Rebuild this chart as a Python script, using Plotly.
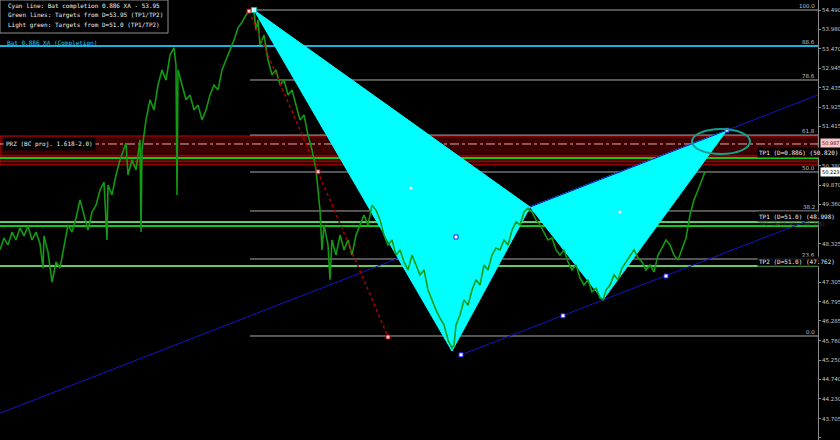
import plotly.graph_objects as go

# ---------------- data ----------------
bar_x = [0,4,8,12,16,20,24,28,32,36,40,43,44,48,52,56,60,64,68,72,76,80,84,88,92,96,100,104,107,108,112,116,120,124,126,128,132,136,140,141,142,146,150,154,158,162,166,170,174,176,177,178,182,186,190,194,198,202,206,210,214,218,222,226,230,234,238,242,246,250,254,256,258,260,264,268,272,276,280,284,288,292,296,300,304,308,312,316,320,322,324,328,330,332,336,340,344,348,352,356,360,364,368,372,376,380,384,388,392,396,400,404,408,412,416,420,424,428,432,436,440,444,448,452,454,456,460,464,468,472,476,480,484,488,492,496,500,504,508,512,516,520,524,528,532,536,540,544,548,552,556,560,564,568,572,576,580,584,588,592,596,600,603,606,610,614,618,622,626,630,634,638,642,646,650,654,658,662,666,670,674,678,682,686,690,694,698,702,705]
price = [48.16,48.47,48.29,48.63,48.42,48.74,48.53,48.79,48.42,48.63,48.32,47.68,48.53,48.10,47.31,47.84,47.68,48.29,48.82,48.63,49.00,49.48,49.08,48.68,49.16,49.34,49.74,49.95,48.42,49.87,49.61,50.14,50.53,50.80,50.98,50.14,50.53,50.27,51.06,48.63,50.80,51.59,52.12,51.85,52.51,52.91,52.64,53.30,53.49,53.04,49.61,52.91,52.51,52.12,52.25,51.85,51.98,51.59,51.85,52.25,52.51,52.38,52.91,53.17,53.43,53.70,54.02,54.17,54.36,54.49,54.44,53.96,54.23,53.57,53.83,53.17,52.78,52.91,52.51,52.64,52.25,52.38,51.98,51.59,51.72,51.19,50.80,50.27,49.21,48.16,48.82,48.29,47.37,48.42,48.02,48.55,48.16,48.42,48.02,48.55,48.82,49.08,48.82,49.34,49.21,48.95,48.55,48.29,48.42,48.02,48.16,47.84,47.63,48.02,47.76,47.50,47.63,47.10,46.84,46.57,46.36,46.18,45.78,45.57,45.65,46.18,46.44,46.84,46.70,47.10,47.37,47.23,47.76,47.63,48.02,48.21,48.16,48.42,48.29,48.68,48.90,48.82,49.16,49.26,49.16,48.95,48.82,48.63,48.42,48.47,48.16,48.02,48.16,47.84,47.63,47.76,47.42,47.23,47.37,47.05,47.15,46.89,46.84,47.10,47.23,47.50,47.37,47.68,47.84,48.02,48.16,47.95,47.84,47.63,47.76,47.58,48.02,48.21,48.42,48.29,48.02,47.89,48.16,48.47,49.08,49.48,49.74,50.00,50.22]

# Bat pattern points X, A, B, C, D
pat_x = [254, 452, 530, 603, 727]
pat_y = [54.49, 45.49, 49.29, 46.84, 51.32]

# Fibonacci retracement levels (X-A)
fib_labels = ["100.0", "78.6", "61.8", "50.0", "38.2", "23.6", "0.0"]
fib_prices = [54.49, 52.643, 51.19, 50.215, 49.186, 47.919, 45.887]
fib_start = 250

bat_level = 53.54          # 88.6 % XA (cyan)
prz_top, prz_bot = 51.165, 50.40
prz_mid = 50.954           # dash-dot
green_lines = [50.584, 48.79]
light_green_lines = [48.896, 47.734]

# channel lines (B-D line and lower parallel)
upper_x = [0, 818]
upper_y = [43.85, 52.25]
lower_x = [461, 818]
lower_y = [45.39, 49.03]
chan_mark_x = [456, 461, 563, 666, 727]
chan_mark_y = [48.50, 45.39, 46.42, 47.47, 51.32]
dot_x = [411, 620]
dot_y = [49.79, 49.16]

# red dotted projection
red_x = [249, 318, 388]
red_y = [54.46, 50.22, 45.86]

tick_vals = [54.490, 53.980, 53.470, 52.945, 52.435, 51.925, 51.415, 50.380, 49.870, 49.360,
             48.325, 47.305, 46.795, 46.285, 45.760, 45.250, 44.740, 44.230, 43.705, 43.195]
tick_text = ["%.3f" % v for v in tick_vals]

YMIN, YMAX = 43.142, 54.754
XMAX = 818
MONO = "DejaVu Sans Mono"

fig = go.Figure()

# channel lines
fig.add_trace(go.Scatter(x=upper_x, y=upper_y, mode="lines",
                         line=dict(color="#1414c8", width=1), hoverinfo="skip"))
fig.add_trace(go.Scatter(x=lower_x, y=lower_y, mode="lines",
                         line=dict(color="#1414c8", width=1), hoverinfo="skip"))

# cyan triangles XAB and BCD
fig.add_trace(go.Scatter(x=[pat_x[0], pat_x[1], pat_x[2], pat_x[0]],
                         y=[pat_y[0], pat_y[1], pat_y[2], pat_y[0]],
                         fill="toself", fillcolor="#00ffff", mode="lines",
                         line=dict(color="#00ffff", width=1), hoverinfo="skip"))
fig.add_trace(go.Scatter(x=[pat_x[2], pat_x[3], pat_x[4], pat_x[2]],
                         y=[pat_y[2], pat_y[3], pat_y[4], pat_y[2]],
                         fill="toself", fillcolor="#00ffff", mode="lines",
                         line=dict(color="#00ffff", width=1), hoverinfo="skip"))

# price
fig.add_trace(go.Scatter(x=bar_x, y=price, mode="lines",
                         line=dict(color="#129a12", width=1.6), hoverinfo="skip"))

# upper channel line again over the cyan
fig.add_trace(go.Scatter(x=[pat_x[2], pat_x[4]], y=[pat_y[2], pat_y[4]], mode="lines",
                         line=dict(color="#1414c8", width=1), hoverinfo="skip"))

# red dotted
fig.add_trace(go.Scatter(x=red_x, y=red_y, mode="lines",
                         line=dict(color="#b00000", width=1.5, dash="dot"), hoverinfo="skip"))
fig.add_trace(go.Scatter(x=[red_x[0], red_x[1], red_x[2]], y=red_y, mode="markers",
                         marker=dict(symbol="square", size=4, color="#ffd0d0",
                                     line=dict(color="#c00000", width=1)), hoverinfo="skip"))

# markers
fig.add_trace(go.Scatter(x=chan_mark_x, y=chan_mark_y, mode="markers",
                         marker=dict(symbol="square", size=4, color="#ffffff",
                                     line=dict(color="#2020ff", width=1)), hoverinfo="skip"))
fig.add_trace(go.Scatter(x=dot_x, y=dot_y, mode="markers",
                         marker=dict(symbol="circle", size=3, color="#ffffff"), hoverinfo="skip"))
fig.add_trace(go.Scatter(x=[pat_x[0]], y=[pat_y[0]], mode="markers",
                         marker=dict(symbol="square", size=5, color="#c0ffff",
                                     line=dict(color="#00c0c0", width=1)), hoverinfo="skip"))

shapes = []
# PRZ band
shapes.append(dict(type="rect", xref="paper", x0=0, x1=1, y0=prz_bot, y1=prz_top,
                   fillcolor="#3c0000", line=dict(color="#c80000", width=1), layer="below"))
shapes.append(dict(type="line", xref="paper", x0=0, x1=1, y0=50.64, y1=50.64,
                   line=dict(color="#c80000", width=1), layer="below"))
shapes.append(dict(type="line", xref="paper", x0=0, x1=1, y0=50.50, y1=50.50,
                   line=dict(color="#c80000", width=1), layer="below"))
shapes.append(dict(type="line", xref="paper", x0=0, x1=1, y0=prz_mid, y1=prz_mid,
                   line=dict(color="#d8b0b0", width=1, dash="dashdot"), layer="below"))
# fib lines
for p in fib_prices:
    shapes.append(dict(type="line", x0=fib_start, x1=XMAX, y0=p, y1=p,
                       line=dict(color="#a8a8a8", width=1), layer="below"))
# bat completion
shapes.append(dict(type="line", xref="paper", x0=0, x1=1, y0=bat_level, y1=bat_level,
                   line=dict(color="#18b4e0", width=2), layer="below"))
for p in green_lines:
    shapes.append(dict(type="line", xref="paper", x0=0, x1=1, y0=p, y1=p,
                       line=dict(color="#16c816", width=2), layer="below"))
for p in light_green_lines:
    shapes.append(dict(type="line", xref="paper", x0=0, x1=1, y0=p, y1=p,
                       line=dict(color="#62cc62", width=2), layer="below"))
# ellipse around D
shapes.append(dict(type="circle", x0=692, x1=750, y0=50.69, y1=51.35,
                   line=dict(color="#14a090", width=2)))
# info box
shapes.append(dict(type="rect", xref="paper", yref="paper", x0=0, x1=168/818, y0=1-33/440, y1=1,
                   fillcolor="#000000", line=dict(color="#909090", width=1)))

ann = []
info = ["Cyan line: Bat completion 0.886 XA - 53.95",
        "Green lines: Targets from D=53.95 (TP1/TP2)",
        "Light green: Targets from D=51.0 (TP1/TP2)"]
for i, t in enumerate(info):
    ann.append(dict(xref="paper", yref="paper", x=6/818, y=1-(6+9.3*i)/440, text=t,
                    showarrow=False, xanchor="left", yanchor="middle",
                    font=dict(family=MONO, size=6, color="#f0f0f0")))
ann.append(dict(xref="paper", x=5/818, y=bat_level + 0.09, text="Bat 0.886 XA (Completion)",
                showarrow=False, xanchor="left", yanchor="middle",
                font=dict(family=MONO, size=6, color="#20c8f0")))
ann.append(dict(xref="paper", x=3/818, y=50.95, text="PRZ (BC proj. 1.618-2.0)",
                showarrow=False, xanchor="left", yanchor="middle", bgcolor="#000000",
                borderpad=2, font=dict(family=MONO, size=6, color="#f0f0f0")))
for lab, p in zip(fib_labels, fib_prices):
    ann.append(dict(x=XMAX - 1, y=p + 0.1, text=lab, showarrow=False, xanchor="right",
                    yanchor="middle", font=dict(family="DejaVu Sans", size=5.5, color="#b8c0c8")))
ann.append(dict(x=XMAX - 1, y=bat_level + 0.1, text="88.6", showarrow=False, xanchor="right",
                yanchor="middle", font=dict(family="DejaVu Sans", size=5.5, color="#b8c0c8")))
# target labels
for t, p in [("TP1 (D=0.886) (50.820)", 50.74), ("TP1 (D=51.0) (48.998)", 49.03),
             ("TP2 (D=51.0) (47.762)", 47.84)]:
    ann.append(dict(xref="paper", x=757/818, y=p, text=t, showarrow=False, xanchor="left",
                    yanchor="middle", bgcolor="rgba(0,0,0,0.8)", borderpad=1,
                    font=dict(family=MONO, size=6, color="#f0f0f0")))
ann.append(dict(xref="paper", x=757/818, y=48.84, text="TP2 (D=53.95) (48.835)", showarrow=False,
                xanchor="left", yanchor="middle",
                font=dict(family=MONO, size=5, color="#505050")))
# price tags on axis
ann.append(dict(xref="paper", x=820/818, y=50.987, text="50.987", showarrow=False, xanchor="left",
                yanchor="middle", bgcolor="#f4c8c8", borderpad=1,
                font=dict(family="DejaVu Sans", size=5, color="#800000")))
ann.append(dict(xref="paper", x=820/818, y=50.223, text="50.223", showarrow=False, xanchor="left",
                yanchor="middle", bgcolor="#ffffff", borderpad=1,
                font=dict(family="DejaVu Sans", size=5, color="#000000")))

fig.update_layout(
    width=840, height=440,
    margin=dict(l=0, r=22, t=0, b=0, autoexpand=False),
    paper_bgcolor="#000000", plot_bgcolor="#000000",
    showlegend=False,
    shapes=shapes, annotations=ann,
    xaxis=dict(range=[0, XMAX], visible=False, fixedrange=True),
    yaxis=dict(range=[YMIN, YMAX], side="right", showgrid=False, zeroline=False,
               showline=True, linecolor="#8c8c8c", linewidth=1, automargin=False,
               ticks="outside", ticklen=2, tickcolor="#8c8c8c",
               tickvals=tick_vals, ticktext=tick_text,
               tickfont=dict(family="DejaVu Sans", size=5.5, color="#c8c8c8")),
)

fig.write_html("out.html", config={"displayModeBar": False},
               post_script="document.body.style.margin='0';document.body.style.background='#000';")
